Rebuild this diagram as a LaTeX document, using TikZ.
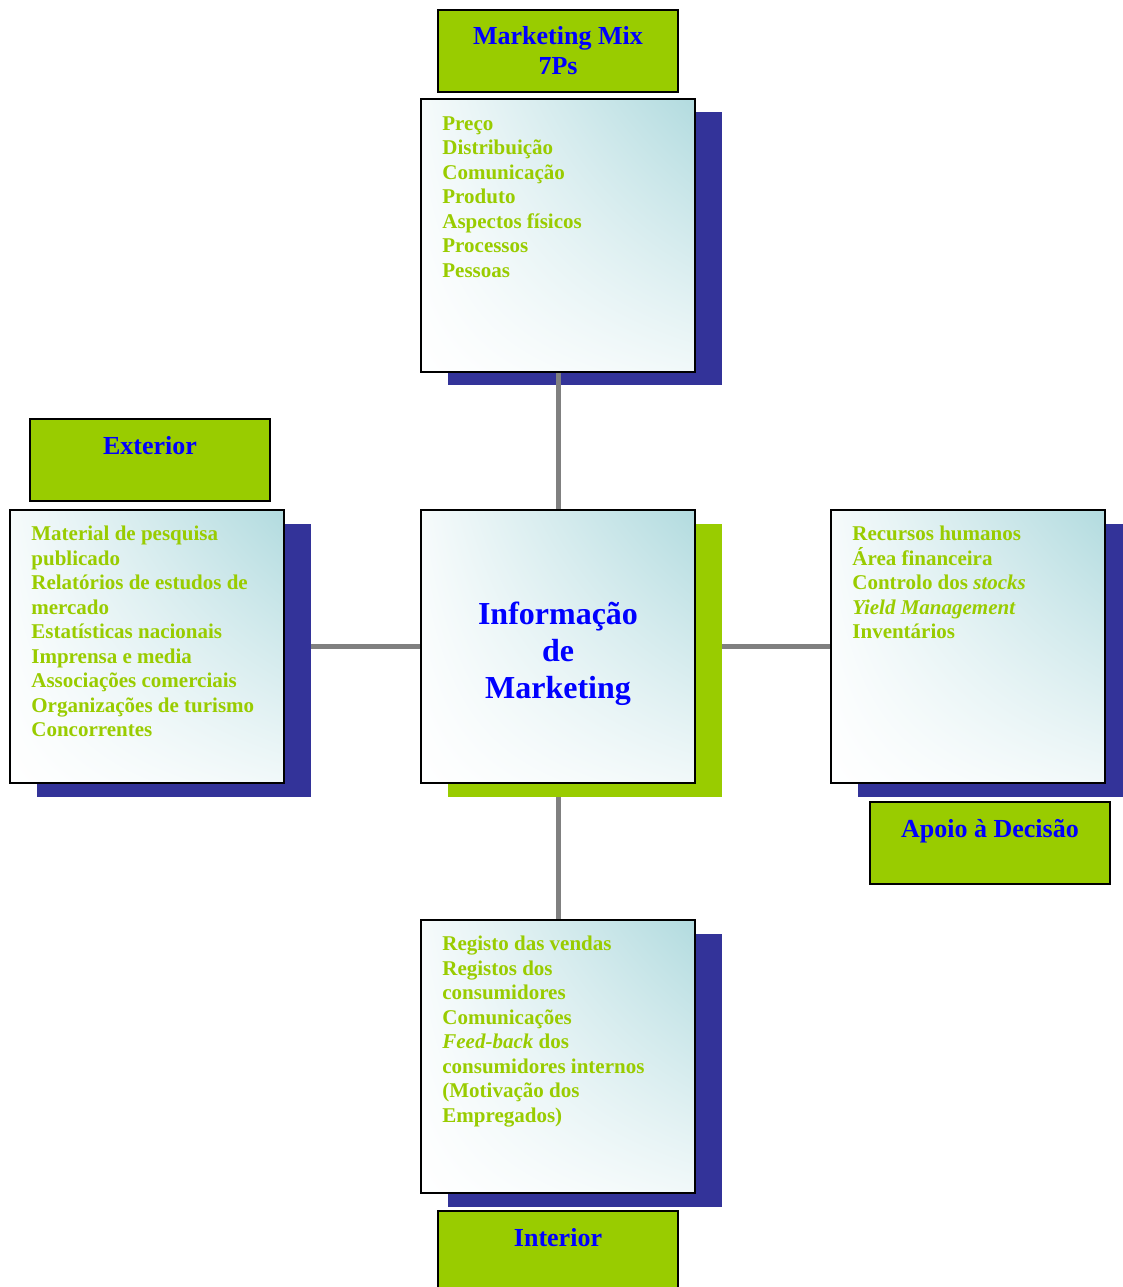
\documentclass[tikz,border=0pt]{standalone}
\usepackage{xcolor}
\usepackage{fontspec}
\setmainfont{Liberation Serif}
\usetikzlibrary{shadings}

\definecolor{vert}{HTML}{99CC00}
\definecolor{bleu}{HTML}{0000FF}
\definecolor{marine}{HTML}{333399}
\definecolor{turquoise}{RGB}{178,219,223}

\tikzset{
  etiquette/.style={draw=black, line width=1pt, fill=vert, minimum width=120pt, minimum height=41pt,
    align=center, inner sep=0pt, text=bleu, font=\fontsize{13}{15}\selectfont\bfseries},
  boite/.style={draw=black, line width=1pt, minimum width=137pt, minimum height=136.5pt, inner sep=0pt,
    upper right=turquoise, upper left=turquoise!12, lower left=white, lower right=turquoise!18},
  ombre/.style={minimum width=137pt, minimum height=136.5pt, inner sep=0pt},
  liste/.style={anchor=north west, align=left, inner sep=0pt, text=vert,
    font=\fontsize{10.5}{12.25}\selectfont\bfseries},
  lien/.style={draw=gray, line width=2.5pt}
}

\begin{document}
\begin{tikzpicture}[x=0.5pt, y=-0.5pt]

\useasboundingbox (0,0) rectangle (1123,1287);
\clip (0,0) rectangle (1123,1287);

% Marketing mix (en haut)
\node[etiquette] (mixlbl) at (558,51) {Marketing Mix\\7Ps};
\node[ombre, fill=marine] (mixsh) at (585,248.5) {};
\node[boite] (mix) at (558,235.5) {};
\node[liste] (mixtxt) at (442,116) {Preço\\Distribuição\\Comunicação\\Produto\\Aspectos físicos\\Processos\\Pessoas};

% Boîte centrale
\node[ombre, fill=vert] (ctrsh) at (585,660) {};
\node[boite] (ctr) at (558,646.5) {};
\node[align=center, text=bleu, font=\fontsize{16}{18.5}\selectfont\bfseries] (ctrtxt) at (558,654) {Informação\\de\\Marketing};

% Exterior (à gauche)
\node[etiquette] (extlbl) at (150,460) {Exterior\\~};
\node[ombre, fill=marine] (extsh) at (174,660) {};
\node[boite] (ext) at (147,646.5) {};
\node[liste] (exttxt) at (31,526) {Material de pesquisa\\publicado\\Relatórios de estudos de\\mercado\\Estatísticas nacionais\\Imprensa e media\\Associações comerciais\\Organizações de turismo\\Concorrentes};

% Apoio à Decisão (à droite)
\node[ombre, fill=marine] (decsh) at (995,660) {};
\node[boite] (dec) at (968,646.5) {};
\node[liste] (dectxt) at (852,526) {Recursos humanos\\Área financeira\\Controlo dos \textit{stocks}\\\textit{Yield Management}\\Inventários};
\node[etiquette] (declbl) at (990,843) {Apoio à Decisão\\~};

% Interior (en bas)
\node[ombre, fill=marine] (intsh) at (585,1070) {};
\node[boite] (int) at (558,1056.5) {};
\node[liste] (inttxt) at (442,936) {Registo das vendas\\Registos dos\\consumidores\\Comunicações\\\textit{Feed-back} dos\\consumidores internos\\(Motivação dos\\Empregados)};
\node[etiquette] (intlbl) at (558,1252) {Interior\\~};

% Liens
\draw[lien] (mix.south) -- (ctr.north);
\draw[lien] (ctr.south |- ctrsh.south) -- (int.north);
\draw[lien] (extsh.east |- ext.east) -- (ctr.west);
\draw[lien] (ctrsh.east |- ctr.east) -- (dec.west);

\end{tikzpicture}
\end{document}
